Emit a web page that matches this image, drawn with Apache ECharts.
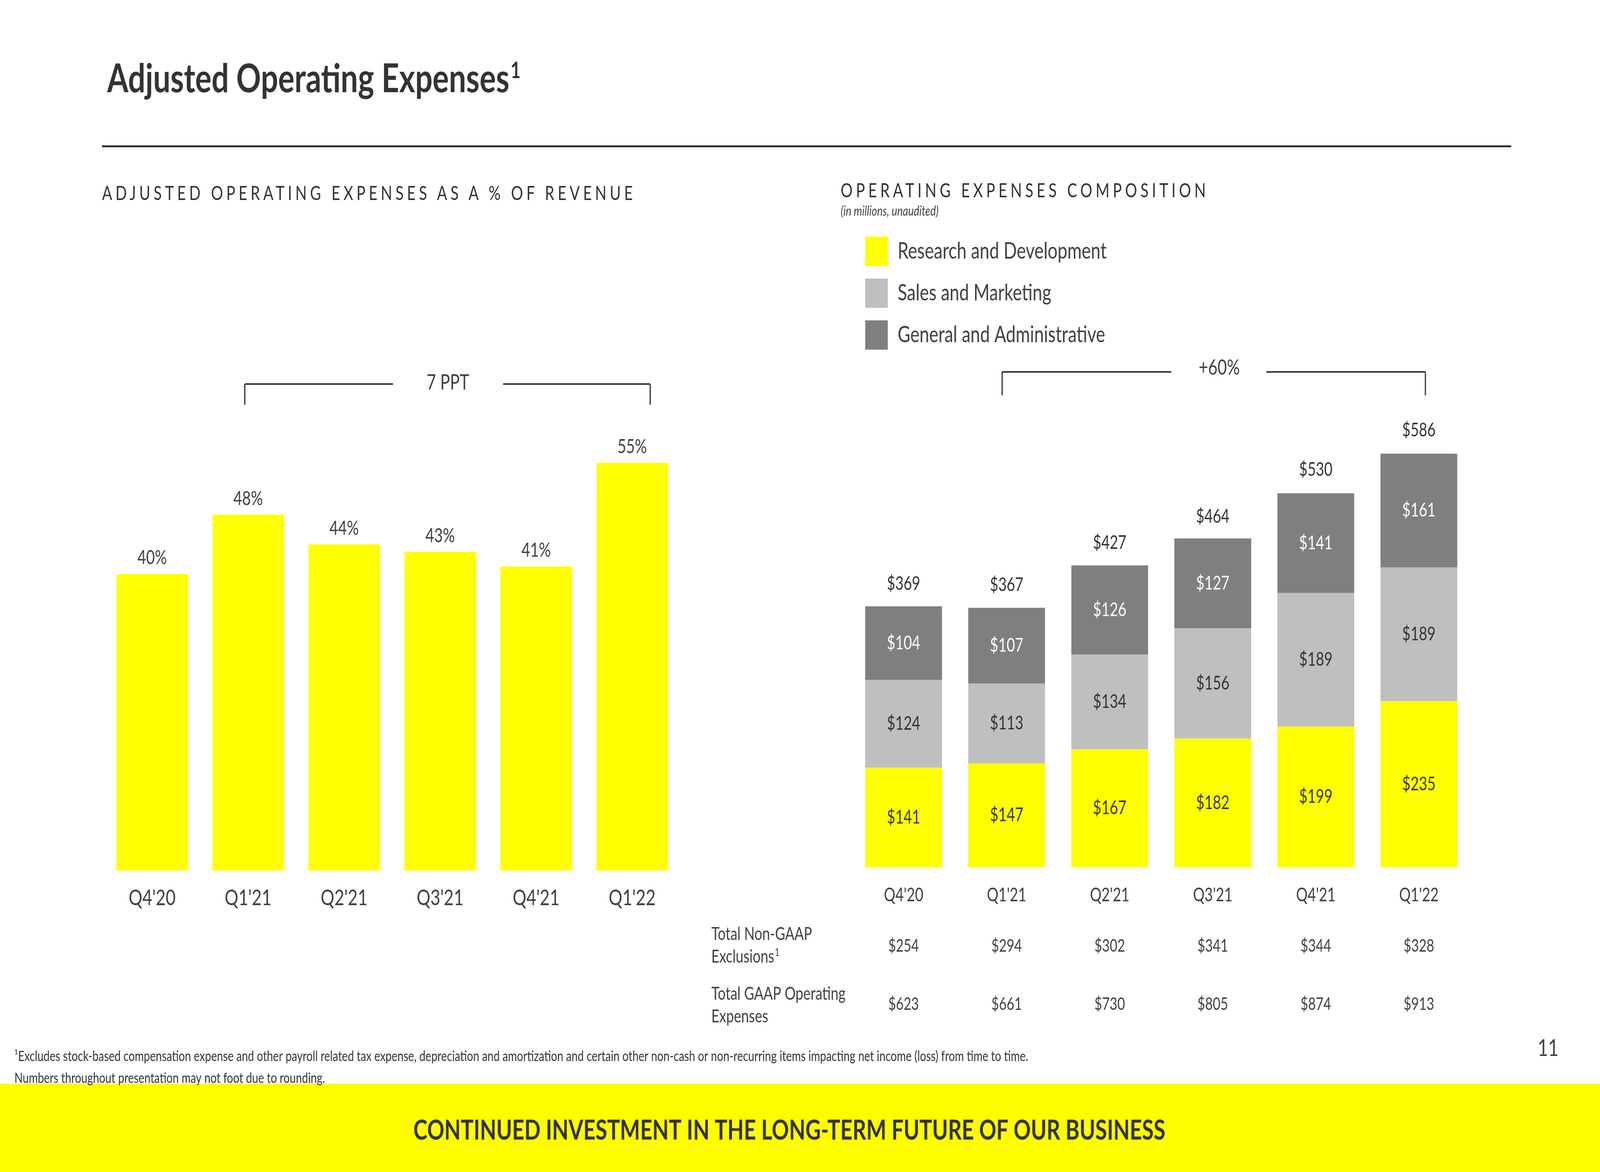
<!DOCTYPE html>
<html>
<head>
<meta charset="utf-8">
<script src="https://cdn.jsdelivr.net/npm/echarts@6/dist/echarts.min.js"></script>
<style>
  html, body { margin: 0; padding: 0; background: #fff; overflow: hidden; }
  #wrap { position: absolute; left: 0; top: 0; width: 5333px; height: 3000px; overflow: hidden; transform-origin: 0 0; background: #fff; }
  #chart { position: absolute; left: 0; top: 0; width: 5333px; height: 3000px; }
  .head { position: absolute; font-family: Lato, "Open Sans", sans-serif; font-size: 50px; line-height: 60px;
          letter-spacing: 11px; color: #333; white-space: nowrap; }
</style>
</head>
<body>
<div id="wrap">
  <div id="chart"></div>
  <div class="head" id="h1" style="left:340px; top:463px;">ADJUSTED OPERATING EXPENSES AS A % OF REVENUE</div>
  <div class="head" id="h2" style="left:2802px; top:456px;">OPERATING EXPENSES COMPOSITION</div>
</div>
<script>
// ---- data ----
const categories = ["Q4'20", "Q1'21", "Q2'21", "Q3'21", "Q4'21", "Q1'22"];
const opexPctOfRevenue = [40, 48, 44, 43, 41, 55];
const researchDev = [141, 147, 167, 182, 199, 235];
const salesMarketing = [124, 113, 134, 156, 189, 189];
const generalAdmin = [104, 107, 126, 127, 141, 161];
const totalAdjusted = [369, 367, 427, 464, 530, 586];
const totalNonGaapExclusions = [254, 294, 302, 341, 344, 328];
const totalGaapOpex = [623, 661, 730, 805, 874, 913];
const seriesNames = ['Research and Development', 'Sales and Marketing', 'General and Administrative'];

// fit the 5333x3000 slide into whatever viewport the browser actually has
(function fit() {
  const W = 5333, H = 3000;
  const sx = (window.innerWidth || W) / W, sy = (window.innerHeight || H) / H;
  document.getElementById('wrap').style.transform = 'scale(' + sx + ',' + sy + ')';
})();

const FONT = 'Lato, "Open Sans", sans-serif';
const TXT = '#404040';
const YELLOW = '#FFFF00';
const LGREY = '#BFBFBF';
const DGREY = '#7F7F7F';

const chart = echarts.init(document.getElementById('chart'), null, { renderer: 'canvas', width: 5333, height: 3000 });

const dollar = v => '$' + v;

const line = (x1, y1, x2, y2) => ({
  type: 'line', shape: { x1, y1, x2, y2 },
  style: { stroke: '#333', lineWidth: 4 }, silent: true
});
const txt = (x, y, text, opt) => ({
  type: 'text', x, y, silent: true,
  style: Object.assign({ text, font: '48px ' + FONT, fill: TXT, align: 'left', verticalAlign: 'middle' }, opt)
});

const option = {
  backgroundColor: '#fff',
  animation: false,
  textStyle: { fontFamily: FONT },
  legend: {
    data: seriesNames,
    orient: 'vertical',
    left: 2884, top: 606,
    itemWidth: 75, itemHeight: 75, itemGap: 32,
    icon: 'rect',
    padding: 0,
    selectedMode: false,
    textStyle: { fontSize: 58, color: TXT, fontFamily: FONT, padding: [0, 0, 0, 28] }
  },
  grid: [
    { left: 347, top: 1090, width: 1920, height: 1138 },
    { left: 2840, top: 953, width: 2061, height: 1267 }
  ],
  xAxis: [
    { type: 'category', gridIndex: 0, data: categories,
      axisLine: { show: false }, axisTick: { show: false },
      axisLabel: { fontSize: 57, lineHeight: 57, color: TXT, margin: 42, fontFamily: FONT } },
    { type: 'category', gridIndex: 1, data: categories,
      axisLine: { show: false }, axisTick: { show: false },
      axisLabel: { fontSize: 48, lineHeight: 48, color: TXT, margin: 48, fontFamily: FONT } },
    { type: 'category', gridIndex: 1, position: 'bottom', offset: 180,
      data: totalNonGaapExclusions.map(dollar),
      axisLine: { show: false }, axisTick: { show: false },
      axisLabel: { fontSize: 44, lineHeight: 44, color: TXT, margin: 0, fontFamily: FONT } },
    { type: 'category', gridIndex: 1, position: 'bottom', offset: 329,
      data: totalGaapOpex.map(dollar),
      axisLine: { show: false }, axisTick: { show: false },
      axisLabel: { fontSize: 44, lineHeight: 44, color: TXT, margin: 0, fontFamily: FONT } }
  ],
  yAxis: [
    { type: 'value', gridIndex: 0, min: 0, max: 60, show: false },
    { type: 'value', gridIndex: 1, min: 0, max: 700, show: false }
  ],
  series: [
    { name: 'Adjusted OpEx % of Revenue', type: 'bar', xAxisIndex: 0, yAxisIndex: 0,
      data: opexPctOfRevenue, barWidth: 238, itemStyle: { color: YELLOW },
      label: { show: true, position: 'top', distance: 16, formatter: '{c}%',
               fontSize: 50, color: TXT, fontFamily: FONT } },
    { name: seriesNames[0], type: 'bar', stack: 'opex', xAxisIndex: 1, yAxisIndex: 1,
      data: researchDev, barWidth: 256, itemStyle: { color: YELLOW },
      label: { show: true, position: 'inside', formatter: p => dollar(p.value),
               fontSize: 48, color: '#333', fontFamily: FONT } },
    { name: seriesNames[1], type: 'bar', stack: 'opex', xAxisIndex: 1, yAxisIndex: 1,
      data: salesMarketing, barWidth: 256, itemStyle: { color: LGREY },
      label: { show: true, position: 'inside', formatter: p => dollar(p.value),
               fontSize: 48, color: '#333', fontFamily: FONT } },
    { name: seriesNames[2], type: 'bar', stack: 'opex', xAxisIndex: 1, yAxisIndex: 1,
      data: generalAdmin, barWidth: 256, itemStyle: { color: DGREY },
      label: { show: true, position: 'inside', formatter: p => dollar(p.value),
               fontSize: 48, color: '#fff', fontFamily: FONT } },
    { name: 'Total', type: 'bar', xAxisIndex: 1, yAxisIndex: 1, barGap: '-100%',
      data: totalAdjusted, barWidth: 256, silent: true, z: 1,
      itemStyle: { color: 'rgba(0,0,0,0)' },
      label: { show: true, position: 'top', distance: 34, formatter: p => dollar(p.value),
               fontSize: 48, color: '#333', fontFamily: FONT } }
  ],
  graphic: [
    // title
    { type: 'text', x: 357, y: 203, silent: true,
      style: { text: 'Adjusted Operating Expenses{s|1}', font: 'bold 102px ' + FONT, fill: '#333',
               verticalAlign: 'middle',
               rich: { s: { fontSize: 58, fontWeight: 'bold', fontFamily: FONT, fill: '#333', verticalAlign: 'top', padding: [0, 0, 42, 4] } } } },
    // rule
    { type: 'rect', shape: { x: 340, y: 372, width: 4697, height: 5 }, style: { fill: '#333' }, silent: true },
    // subtitle (right)
    txt(2802, 541, '(in millions, unaudited)', { font: 'italic 35px ' + FONT }),
    // left bracket: 7 PPT
    line(816, 983, 816, 1036), line(816, 983, 1310, 983),
    line(1677, 983, 2167, 983), line(2167, 983, 2167, 1036),
    txt(1493, 980, '7 PPT', { font: '54px ' + FONT, align: 'center' }),
    // right bracket: +60%
    line(3340, 952, 3340, 1012), line(3340, 952, 3904, 952),
    line(4221, 952, 4751, 952), line(4751, 952, 4751, 1012),
    txt(4064, 942, '+60%', { font: '54px ' + FONT, align: 'center' }),
    // table row labels
    txt(2371, 2391, 'Total Non-GAAP', { font: '46px ' + FONT }),
    { type: 'text', x: 2371, y: 2449, silent: true,
      style: { text: 'Exclusions{s|1}', font: '46px ' + FONT, fill: TXT, verticalAlign: 'middle',
               rich: { s: { fontSize: 27, fontFamily: FONT, fill: TXT, verticalAlign: 'top', padding: [0, 0, 22, 2] } } } },
    txt(2371, 2544, 'Total GAAP Operating', { font: '46px ' + FONT }),
    txt(2371, 2602, 'Expenses', { font: '46px ' + FONT }),
    // footnote
    txt(48, 2704, '\u00B9Excludes stock-based compensation expense and other payroll related tax expense, depreciation and amortization and certain other non-cash or non-recurring items impacting net income (loss) from time to time.', { font: '36.5px ' + FONT, fill: '#333' }),
    txt(48, 2760, 'Numbers throughout presentation may not foot due to rounding.', { font: '36.5px ' + FONT, fill: '#333' }),
    // page number
    txt(5160, 2684, '11', { font: '60px ' + FONT, align: 'center' }),
    // footer band
    { type: 'rect', shape: { x: 0, y: 2774, width: 5333, height: 226 }, style: { fill: '#FFFC00' }, silent: true, z: -1 },
    txt(2631, 2894, 'CONTINUED INVESTMENT IN THE LONG-TERM FUTURE OF OUR BUSINESS', { font: 'bold 71px ' + FONT, fill: '#333', align: 'center' })
  ]
};

chart.setOption(option);
</script>
</body>
</html>
